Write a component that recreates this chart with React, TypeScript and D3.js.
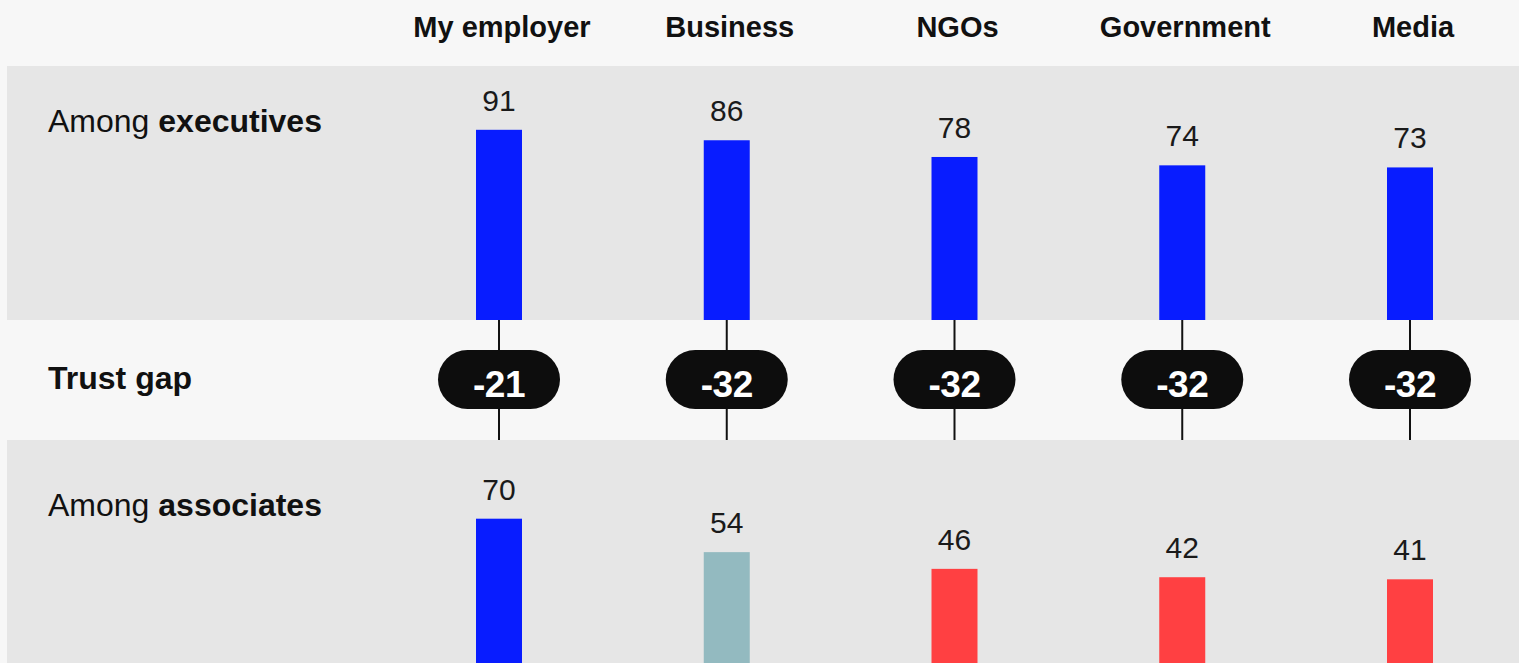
import React from "react";
import * as d3 from "d3";

const categories = ["My employer", "Business", "NGOs", "Government", "Media"];
const executives = [91, 86, 78, 74, 73];
const associates = [70, 54, 46, 42, 41];
const trustGap = [-21, -32, -32, -32, -32];
const associateColors = ["#081cff", "#93bac0", "#ff4042", "#ff4042", "#ff4042"];
const execColor = "#081cff";

const W = 1519;
const H = 663;
const FONT = "'Liberation Sans', Arial, Helvetica, sans-serif";

export default function App() {
  const x = d3.scalePoint<string>().domain(categories).range([499, 1410]);
  const barW = 46;
  const pxPerUnit = 2.09;
  const yExec = d3.scaleLinear().domain([0, 100]).range([320, 320 - 100 * pxPerUnit]);
  const yAssoc = d3.scaleLinear().domain([0, 100]).range([665, 665 - 100 * pxPerUnit]);

  return (
    <svg
      width={W}
      height={H}
      style={{ position: "fixed", left: 0, top: 0, background: "#f7f7f7", fontFamily: FONT }}
    >
      <rect x={0} y={0} width={W} height={H} fill="#f7f7f7" />
      <rect x={7} y={66} width={W - 7} height={254} fill="#e6e6e6" />
      <rect x={7} y={440} width={W - 7} height={H - 440} fill="#e6e6e6" />

      {/* headers */}
      {categories.map((c) => (
        <text
          key={c}
          x={(x(c) as number) + 3}
          y={37}
          textAnchor="middle"
          fontSize={29}
          fontWeight="bold"
          fill="#111"
        >
          {c}
        </text>
      ))}

      {/* row labels */}
      <text x={48} y={132} fontSize={32} fill="#111">
        Among <tspan fontWeight="bold">executives</tspan>
      </text>
      <text x={48} y={389} fontSize={32} fontWeight="bold" fill="#111">
        Trust gap
      </text>
      <text x={48} y={516} fontSize={32} fill="#111">
        Among <tspan fontWeight="bold">associates</tspan>
      </text>

      {/* connectors and pills */}
      {categories.map((c, i) => {
        const cx = x(c) as number;
        return (
          <g key={"gap" + c}>
            <line x1={cx} x2={cx} y1={320} y2={440} stroke="#111" strokeWidth={2} />
            <rect x={cx - 61} y={350} width={122} height={59} rx={29.5} ry={29.5} fill="#0d0d0d" />
            <text
              x={cx}
              y={397}
              textAnchor="middle"
              fontSize={37}
              fontWeight="bold"
              letterSpacing={-0.5}
              fill="#ffffff"
            >
              {trustGap[i]}
            </text>
          </g>
        );
      })}

      {/* executives bars */}
      {categories.map((c, i) => {
        const cx = x(c) as number;
        const top = yExec(executives[i]);
        return (
          <g key={"ex" + c}>
            <rect x={cx - barW / 2} y={top} width={barW} height={yExec(0) - top} fill={execColor} />
            <text x={cx} y={top - 19} textAnchor="middle" fontSize={30} fill="#1a1a1a">
              {executives[i]}
            </text>
          </g>
        );
      })}

      {/* associates bars */}
      {categories.map((c, i) => {
        const cx = x(c) as number;
        const top = yAssoc(associates[i]);
        return (
          <g key={"as" + c}>
            <rect x={cx - barW / 2} y={top} width={barW} height={yAssoc(0) - top} fill={associateColors[i]} />
            <text x={cx} y={top - 19} textAnchor="middle" fontSize={30} fill="#1a1a1a">
              {associates[i]}
            </text>
          </g>
        );
      })}
    </svg>
  );
}
